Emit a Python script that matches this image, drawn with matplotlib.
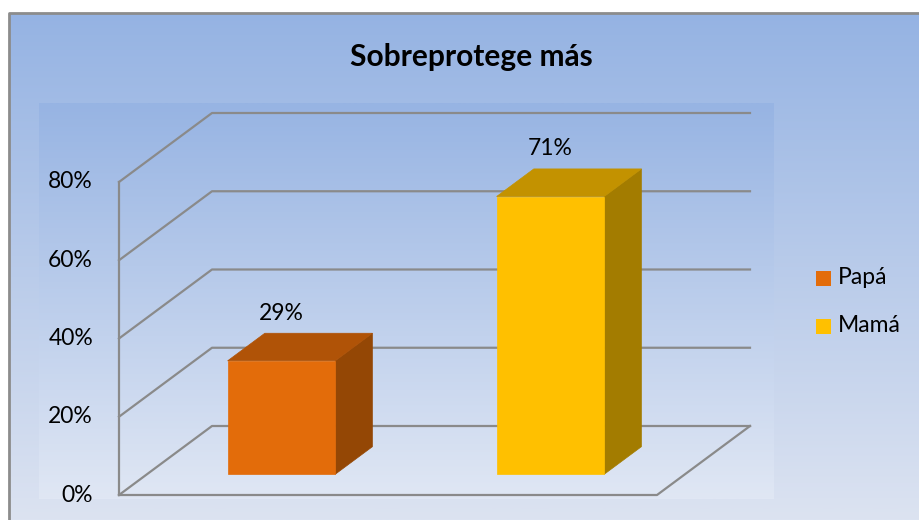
import numpy as np
import matplotlib
matplotlib.use("Agg")
import matplotlib.pyplot as plt
from matplotlib.patches import Polygon, Rectangle
from matplotlib.colors import LinearSegmentedColormap

# datos
categorias = ["Papá", "Mamá"]
valores = [29, 71]
etiquetas = ["29%", "71%"]
ticks = [0, 20, 40, 60, 80]
tick_labels = ["0%", "20%", "40%", "60%", "80%"]
titulo = "Sobreprotege más"

col_frente = ["#E36C0A", "#FFC000"]
col_arriba = ["#B05307", "#C39200"]
col_lado = ["#944705", "#A37C00"]

plt.rcParams['font.family'] = ['Lato', 'DejaVu Sans']

W, H = 920, 520
fig = plt.figure(figsize=(W / 100, H / 100), dpi=100)
ax = fig.add_axes([0, 0, 1, 1])
ax.axis('off')

# escala: px por categoria y px por %
px_cat = 269.0
px_pct = 3.9125
x0_px, y0_px = 119.0, 25.0  # origen (0,0) en px desde abajo
ax.set_xlim(-x0_px / px_cat, (W - x0_px) / px_cat)
ax.set_ylim(-y0_px / px_pct, (H - y0_px) / px_pct)

# vector de profundidad (datos)
DX = 93 / px_cat
DY = 69 / px_pct


def P(x, v, d):
    return (x + d * DX, v + d * DY)


# fondos con degradado
def degradado(ext, c_top, c_bot, z):
    cmap = LinearSegmentedColormap.from_list("g", [c_bot, c_top])
    g = np.linspace(0, 1, 256).reshape(-1, 1)
    ax.imshow(g, cmap=cmap, origin='lower', aspect='auto', extent=ext,
              transform=ax.transAxes, zorder=z, interpolation='bilinear')


degradado((9 / W, 1.0, 0, 1 - 13 / H), "#95B3E3", "#DCE3F1", 0)
degradado((39 / W, 774 / W, 1 - 499 / H, 1 - 103 / H), "#97B4E3", "#E0E7F4", 1)
ax.plot([9 / W, 9 / W, 1.0], [0, 1 - 13 / H, 1 - 13 / H], color="#8C8C8C",
        lw=2, transform=ax.transAxes, zorder=2, solid_capstyle='butt')

n = len(categorias)
gc = "#8A8A8A"
# cuadricula: pared izquierda y fondo
for t in ticks:
    xs, ys = zip(P(0, t, 0), P(0, t, 1), P(n, t, 1))
    ax.plot(xs, ys, color=gc, lw=1.6, zorder=3)
xs, ys = zip(P(0, 0, 0), P(0, ticks[-1], 0))
ax.plot(xs, ys, color=gc, lw=1.6, zorder=3)
xs, ys = zip(P(0, 0, 0), P(n, 0, 0), P(n, 0, 1))
ax.plot(xs, ys, color=gc, lw=1.6, zorder=3)

for t, lab in zip(ticks, tick_labels):
    x, y = P(0, t, 0)
    ax.annotate(lab, (x, y), xytext=(-26 * 0.72, 0), textcoords='offset points',
                ha='right', va='center', fontsize=16.5, color="black", zorder=5)

# barras 3D
ancho = 0.4
d0, d1 = 0.3, 0.7
for i, v in enumerate(valores):
    xa = i + 0.5 - ancho / 2
    xb = i + 0.5 + ancho / 2
    frente = [P(xa, 0, d0), P(xb, 0, d0), P(xb, v, d0), P(xa, v, d0)]
    arriba = [P(xa, v, d0), P(xb, v, d0), P(xb, v, d1), P(xa, v, d1)]
    lado = [P(xb, 0, d0), P(xb, 0, d1), P(xb, v, d1), P(xb, v, d0)]
    for pts, c in ((lado, col_lado[i]), (arriba, col_arriba[i]), (frente, col_frente[i])):
        ax.add_patch(Polygon(pts, closed=True, facecolor=c, edgecolor=c, lw=0.5, zorder=4))
    x, y = P(i + 0.5, v, d0)
    yt = P(i + 0.5, v, d1)[1]
    ax.annotate(etiquetas[i], (x, yt), xytext=(0, 20 * 0.72), textcoords='offset points',
                ha='center', va='center', fontsize=16.5, color="black", zorder=5)

# leyenda
for i, cat in enumerate(categorias):
    yc = 1 - (278 + 48 * i) / H
    fig.patches.append(Rectangle((816 / W, yc - 7.5 / H), 15 / W, 15 / H,
                                 transform=fig.transFigure, facecolor=col_frente[i],
                                 edgecolor='none', zorder=5))
    fig.text(838 / W, yc, cat, ha='left', va='center', fontsize=16.5, color="black")

fig.text(471 / W, 1 - 57 / H, titulo, ha='center', va='center', fontsize=21.5,
         fontweight='bold', color="black")

fig.savefig("out.png", dpi=100)
